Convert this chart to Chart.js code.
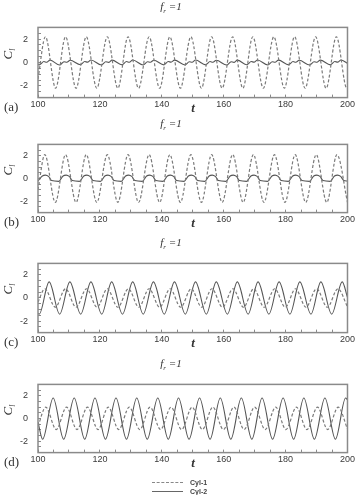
<!DOCTYPE html>
<html>
<head>
<meta charset="utf-8">
<script src="https://cdn.jsdelivr.net/npm/chart.js@4.4.0/dist/chart.umd.min.js"></script>
<style>
    html, body { margin: 0; padding: 0; background: #fff; }
    #page { position: relative; width: 360px; height: 495px; overflow: hidden;
            font-family: "Liberation Serif", "DejaVu Serif", serif; color: #333; }
    .panel { position: absolute; left: 0; width: 360px; }
    .txt { position: absolute; white-space: nowrap; line-height: 1; }
    .title { font-size: 11px; font-style: italic; transform: translate(-50%, -50%); }
    .title sub { font-size: 7px; }
    .plabel { font-size: 13px; transform: translateY(-50%); }
    .tlabel { font-size: 13px; font-weight: bold; font-style: italic; transform: translate(-50%, -50%); }
    .ylabel { font-size: 13px; font-style: italic; transform: translate(-50%, -50%) rotate(-90deg); }
    .ylabel sub { font-size: 8px; }
    .legline { position: absolute; left: 152px; width: 31px; height: 0; }
    .legtxt { position: absolute; left: 190px; font: bold 7px "Liberation Sans", Arial, sans-serif;
              color: #444; transform: translateY(-50%); }
</style>
</head>
<body>
<div id="page"></div>
<script>
    const xTickLabels = [100, 120, 140, 160, 180, 200];
    const yTickLabels = [-2, 0, 2];
    const seriesNames = ["Cyl-1", "Cyl-2"];
    const panelLabels = ["(a)", "(b)", "(c)", "(d)"];

    // (a)
    const cyl1A = [[100,-1.4],[102.4,2.2],[105.7,-2.2],[108.9,2.2],[112.3,-2.2],[115.6,2.2],[119.0,-2.2],[122.4,2.2],
        [125.8,-2.2],[129.1,2.2],[132.5,-2.2],[135.9,2.2],[139.3,-2.2],[142.6,2.2],[146.0,-2.2],[149.4,2.2],
        [152.8,-2.2],[156.1,2.2],[159.5,-2.2],[162.9,2.2],[166.2,-2.2],[169.4,2.2],[172.8,-2.2],[176.2,2.2],
        [179.6,-2.2],[182.9,2.2],[186.3,-2.2],[189.7,2.2],[193.1,-2.2],[196.4,2.2],[199.8,-2.2],[200,-2.19]];
    const cyl2A = [[100,-0.14],
        [100.5,-0.2],[101.9,0.08],[102.8,0.02],[103.9,0.2],
        [107.0,-0.22],[108.4,0.07],[109.3,0.02],[110.4,0.19],
        [113.7,-0.19],[115.1,0.08],[116.0,0.03],[117.1,0.21],
        [120.5,-0.21],[121.9,0.07],[122.8,0.01],[123.9,0.2],
        [127.2,-0.2],[128.6,0.08],[129.5,0.02],[130.6,0.22],
        [134.0,-0.22],[135.4,0.06],[136.3,0.02],[137.4,0.19],
        [140.7,-0.2],[142.1,0.08],[143.0,0.03],[144.1,0.2],
        [147.5,-0.21],[148.9,0.07],[149.8,0.02],[150.9,0.21],
        [154.2,-0.2],[155.6,0.08],[156.5,0.02],[157.6,0.19],
        [161.0,-0.22],[162.4,0.07],[163.3,0.01],[164.4,0.2],
        [167.5,-0.19],[168.9,0.08],[169.8,0.03],[170.9,0.21],
        [174.3,-0.21],[175.7,0.07],[176.6,0.02],[177.7,0.2],
        [181.0,-0.2],[182.4,0.08],[183.3,0.02],[184.4,0.19],
        [187.8,-0.22],[189.2,0.06],[190.1,0.02],[191.2,0.2],
        [194.5,-0.2],[195.9,0.08],[196.8,0.03],[197.9,0.21],
        [200,-0.08]];

    // (b)
    const cyl1B = [[100,-1.0],[102.2,2.1],[105.6,-2.1],[108.9,2.1],[112.3,-2.1],[115.6,2.1],[119.0,-2.1],[122.4,2.1],
        [125.8,-2.1],[129.1,2.1],[132.5,-2.1],[135.9,2.1],[139.3,-2.1],[142.6,2.1],[146.0,-2.1],[149.4,2.1],
        [152.8,-2.1],[156.1,2.1],[159.5,-2.1],[162.9,2.1],[166.3,-2.1],[169.6,2.1],[173.0,-2.1],[176.4,2.1],
        [179.8,-2.1],[183.1,2.1],[186.5,-2.1],[189.9,2.1],[193.3,-2.1],[196.6,2.1],[200,-2.1]];
    const cyl2B = [[100,-0.22],
        [101.4,0.22],[102.4,0.3],[103.4,0.18],[104.4,-0.18],
        [106.7,-0.25],[108.1,0.22],[109.1,0.3],[110.1,0.18],[111.1,-0.18],
        [113.4,-0.25],[114.8,0.22],[115.8,0.3],[116.8,0.18],[117.8,-0.18],
        [120.2,-0.25],[121.6,0.22],[122.6,0.3],[123.6,0.18],[124.6,-0.18],
        [126.9,-0.25],[128.3,0.22],[129.3,0.3],[130.3,0.18],[131.3,-0.18],
        [133.7,-0.25],[135.1,0.22],[136.1,0.3],[137.1,0.18],[138.1,-0.18],
        [140.4,-0.25],[141.8,0.22],[142.8,0.3],[143.8,0.18],[144.8,-0.18],
        [147.2,-0.25],[148.6,0.22],[149.6,0.3],[150.6,0.18],[151.6,-0.18],
        [153.9,-0.25],[155.3,0.22],[156.3,0.3],[157.3,0.18],[158.3,-0.18],
        [160.7,-0.25],[162.1,0.22],[163.1,0.3],[164.1,0.18],[165.1,-0.18],
        [167.4,-0.25],[168.8,0.22],[169.8,0.3],[170.8,0.18],[171.8,-0.18],
        [174.2,-0.25],[175.6,0.22],[176.6,0.3],[177.6,0.18],[178.6,-0.18],
        [180.9,-0.25],[182.3,0.22],[183.3,0.3],[184.3,0.18],[185.3,-0.18],
        [187.7,-0.25],[189.1,0.22],[190.1,0.3],[191.1,0.18],[192.1,-0.18],
        [194.4,-0.25],[195.8,0.22],[196.8,0.3],[197.8,0.18],[198.8,-0.18],
        [200,-0.23]];

    // (c)
    const cyl1C = [[100,-0.35],[102.2,0.8],[105.6,-0.8],[108.9,0.8],[112.3,-0.8],[115.7,0.8],[119.1,-0.8],[122.4,0.8],
        [125.8,-0.8],[129.2,0.8],[132.6,-0.8],[135.9,0.8],[139.3,-0.8],[142.7,0.8],[146.1,-0.8],[149.5,0.8],
        [152.9,-0.8],[156.2,0.8],[159.6,-0.8],[163.0,0.8],[166.4,-0.8],[169.7,0.8],[173.1,-0.8],[176.5,0.8],
        [179.9,-0.8],[183.2,0.8],[186.6,-0.8],[190.0,0.8],[193.5,-0.8],[196.9,0.8],[200,-0.77]];
    const cyl2C = [[100,-1.35],[100.4,-1.4],[103.6,1.4],[107.0,-1.4],[110.3,1.4],[113.8,-1.4],[117.1,1.4],[120.6,-1.4],
        [123.8,1.4],[127.3,-1.4],[130.6,1.4],[134.0,-1.4],[137.3,1.4],[140.8,-1.4],[144.1,1.4],[147.6,-1.4],
        [150.9,1.4],[154.4,-1.4],[157.6,1.4],[161.2,-1.4],[164.4,1.4],[167.9,-1.4],[171.1,1.4],[174.6,-1.4],
        [177.9,1.4],[181.4,-1.4],[184.6,1.4],[188.2,-1.4],[191.4,1.4],[194.9,-1.4],[198.3,1.4],[200,0.05]];

    // (d)
    const cyl1D = [[100,-0.68],[102.5,1.0],[105.9,-0.97],[109.2,1.0],[112.6,-0.97],[116.0,1.0],[119.4,-0.97],[122.7,1.0],
        [126.1,-0.97],[129.5,1.0],[132.9,-0.97],[136.2,1.0],[139.6,-0.97],[143.0,1.0],[146.4,-0.97],[149.8,1.0],
        [153.1,-0.97],[156.5,1.0],[159.9,-0.97],[163.3,1.0],[166.6,-0.97],[170.0,1.0],[173.4,-0.97],[176.8,1.0],
        [180.1,-0.97],[183.5,1.0],[186.9,-0.97],[190.3,1.0],[193.6,-0.97],[197.0,1.0],[200,-0.93]];
    const cyl2D = [[100,-0.31],[101.5,-1.82],[104.9,1.8],[108.3,-1.82],[111.7,1.8],[115.1,-1.82],[118.4,1.8],[121.8,-1.82],
        [125.2,1.8],[128.6,-1.82],[131.9,1.8],[135.3,-1.82],[138.7,1.8],[142.1,-1.82],[145.4,1.8],[148.8,-1.82],
        [152.2,1.8],[155.6,-1.82],[158.9,1.8],[162.3,-1.82],[165.7,1.8],[169.1,-1.82],[172.4,1.8],[175.8,-1.82],
        [179.2,1.8],[182.6,-1.82],[185.9,1.8],[189.3,-1.82],[192.7,1.8],[196.1,-1.82],[199.4,1.8],[200,1.65]];

    // layout of the four panels (plot area top/bottom in page pixels)
    const PLOT_LEFT = 38, PLOT_RIGHT = 349, PAD_TOP = 4, AXIS_H = 16;
    const panels = [
        { cyl1: cyl1A, cyl2: cyl2A, top: 13,  bottom: 100 },
        { cyl1: cyl1B, cyl2: cyl2B, top: 130, bottom: 215 },
        { cyl1: cyl1C, cyl2: cyl2C, top: 249, bottom: 335 },
        { cyl1: cyl1D, cyl2: cyl2D, top: 370, bottom: 455 },
    ];

    const framePlugin = {
        id: "frame",
        afterDraw(chart) {
            const { ctx, chartArea: a } = chart;
            ctx.save();
            ctx.strokeStyle = "#8a8a8a";
            ctx.lineWidth = 1.5;
            ctx.strokeRect(a.left, a.top, a.right - a.left, a.bottom - a.top);
            ctx.restore();
        }
    };

    const page = document.getElementById("page");

    const addText = (cls, html, left, top) => {
        const el = document.createElement("div");
        el.className = "txt " + cls;
        el.innerHTML = html;
        el.style.left = left + "px";
        el.style.top = top + "px";
        page.appendChild(el);
    };

    const tickFont = { family: "'Liberation Sans', Arial, sans-serif", size: 9 };

    const createPanel = (p, index) => {
        const wrap = document.createElement("div");
        wrap.className = "panel";
        wrap.style.top = (p.top - PAD_TOP) + "px";
        wrap.style.height = (p.bottom - p.top + PAD_TOP + AXIS_H) + "px";
        const canvas = document.createElement("canvas");
        wrap.appendChild(canvas);
        page.appendChild(wrap);

        new Chart(canvas, {
            type: "line",
            data: {
                datasets: [
                    {
                        label: seriesNames[0],
                        data: p.cyl1,
                        borderColor: "#7a7a7a",
                        borderWidth: 1.2,
                        borderDash: [3, 2],
                        pointRadius: 0,
                        cubicInterpolationMode: "monotone",
                        fill: false
                    },
                    {
                        label: seriesNames[1],
                        data: p.cyl2,
                        borderColor: "#555555",
                        borderWidth: 1.1,
                        pointRadius: 0,
                        cubicInterpolationMode: "monotone",
                        fill: false
                    }
                ]
            },
            options: {
                responsive: true,
                maintainAspectRatio: false,
                animation: false,
                layout: { padding: { top: PAD_TOP, right: 360 - PLOT_RIGHT, left: 0, bottom: 0 } },
                plugins: { legend: { display: false }, tooltip: { enabled: false } },
                scales: {
                    x: {
                        type: "linear",
                        min: 100,
                        max: 200,
                        afterFit: (s) => { s.height = AXIS_H; },
                        border: { display: false },
                        grid: { drawOnChartArea: false, drawTicks: true, tickLength: -3, color: "#8a8a8a" },
                        ticks: {
                            stepSize: 5,
                            autoSkip: false,
                            maxRotation: 0,
                            padding: 5,
                            color: "#3a3a3a",
                            font: tickFont,
                            callback: (v) => xTickLabels.includes(v) ? String(v) : ""
                        }
                    },
                    y: {
                        min: -3,
                        max: 3,
                        afterFit: (s) => { s.width = PLOT_LEFT; },
                        border: { display: false },
                        grid: { drawOnChartArea: false, drawTicks: true, tickLength: -3, color: "#8a8a8a" },
                        ticks: {
                            stepSize: 0.5,
                            autoSkip: false,
                            padding: 13,
                            color: "#3a3a3a",
                            font: tickFont,
                            callback: (v) => yTickLabels.includes(v) ? String(v) : ""
                        }
                    }
                }
            },
            plugins: [framePlugin]
        });

        addText("title", "<i>f</i><sub><i>r</i></sub> =<i>1</i>", 171, p.top - 5);
        addText("plabel", panelLabels[index], 4, p.bottom + 6);
        addText("tlabel", "t", 193, p.bottom + 7);
        addText("ylabel", "C<sub>l</sub>", 9, (p.top + p.bottom) / 2 - 3);
    };

    panels.forEach(createPanel);

    // legend below the last panel
    const addLegendRow = (name, top, style) => {
        const line = document.createElement("div");
        line.className = "legline";
        line.style.top = top + "px";
        line.style.borderTop = style;
        page.appendChild(line);
        const txt = document.createElement("div");
        txt.className = "legtxt";
        txt.style.top = top + "px";
        txt.textContent = name;
        page.appendChild(txt);
    };
    addLegendRow(seriesNames[0], 482, "1px dashed #888");
    addLegendRow(seriesNames[1], 491, "1px solid #666");
</script>
</body>
</html>
